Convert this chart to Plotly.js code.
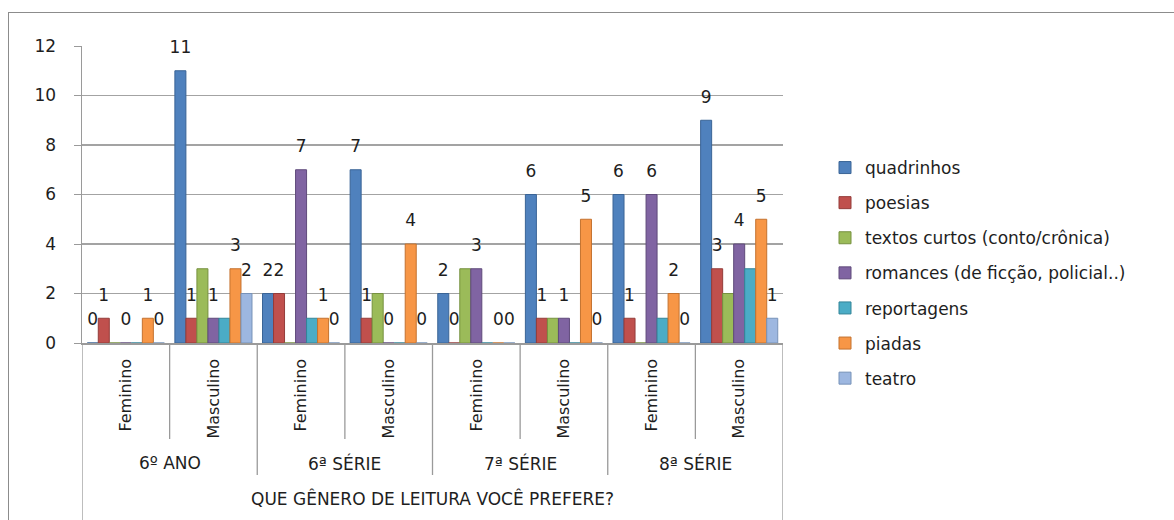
<!DOCTYPE html>
<html>
<head>
<meta charset="utf-8">
<script src="https://cdn.plot.ly/plotly-3.0.1.min.js"></script>
<style>
  html, body { margin: 0; padding: 0; background: #fff; }
  #wrap { position: relative; width: 1174px; height: 520px; overflow: hidden; }
  #chart { position: absolute; left: 0; top: 0; width: 1174px; height: 520px; }
  #frame { position: absolute; left: 8px; top: 12px; width: 1200px; height: 560px;
           border: 1.5px solid #8c8c8c; pointer-events: none; }
</style>
</head>
<body>
<div id="wrap">
  <div id="chart"></div>
  <div id="frame"></div>
</div>
<script>
// Category levels
const grades = ['6º ANO', '6ª SÉRIE', '7ª SÉRIE', '8ª SÉRIE'];
const sexes = ['Feminino', 'Masculino'];
const axisTitle = 'QUE GÊNERO DE LEITURA VOCÊ PREFERE?';

// Series (one value per grade/sex pair, in the order above)
const seriesNames = ['quadrinhos', 'poesias', 'textos curtos (conto/crônica)',
  'romances (de ficção, policial..)', 'reportagens', 'piadas', 'teatro'];
const quadrinhos   = [0, 11, 2, 7, 2, 6, 6, 9];
const poesias      = [1, 1, 2, 1, 0, 1, 1, 3];
const textosCurtos = [0, 3, 0, 2, 3, 1, 0, 2];
const romances     = [0, 1, 7, 0, 3, 1, 6, 4];
const reportagens  = [0, 1, 1, 0, 0, 0, 1, 3];
const piadas       = [1, 3, 1, 4, 0, 5, 2, 5];
const teatro       = [0, 2, 0, 0, 0, 0, 0, 1];
const seriesValues = [quadrinhos, poesias, textosCurtos, romances, reportagens, piadas, teatro];
// which series carry data labels
const showLabels = [true, true, false, true, false, true, true];

const colors = ['#4F81BD', '#C0504D', '#9BBB59', '#8064A2', '#4BACC6', '#F79646', '#9DB7E0'];
const edges  = ['#3A6496', '#943C3A', '#76913F', '#5F4A7B', '#338598', '#C4722F', '#7792B8'];

// positions of the eight grade/sex columns
const xs = [];
const tickText = [];
grades.forEach((g, i) => sexes.forEach((s, j) => { xs.push(i * sexes.length + j); tickText.push(s); }));
const nCat = xs.length;

const FONT = '"DejaVu Sans", "Open Sans", sans-serif';
const TEXT = '#1e1e1e';
const BAR_GAP = 0.12;

const traces = [];
seriesNames.forEach((name, k) => {
  traces.push({
    type: 'bar', name: name, x: xs, y: seriesValues[k],
    legendgroup: name,
    marker: { color: colors[k], line: { color: edges[k], width: 1 } },
    hoverinfo: 'name+y'
  });
});
// value labels, grouped the same way as the bars
seriesNames.forEach((name, k) => {
  traces.push({
    type: 'scatter', mode: 'markers+text', x: xs, y: seriesValues[k],
    text: seriesValues[k].map(v => showLabels[k] ? String(v) : ''),
    textposition: 'top center',
    textfont: { family: FONT, size: 17, color: TEXT },
    marker: { size: 20, opacity: 0 },
    showlegend: false, hoverinfo: 'skip', cliponaxis: false
  });
});

// plot area in pixels
const W = 1174, H = 520;
const L = 82, R = 783, T = 46, B = 343;
const yp = px => (B - px) / (B - T);

const shapes = [];
for (let b = 0; b <= nCat; b++) {
  const xb = b - 0.5;
  let bottom;
  if (b === 0 || b === nCat) bottom = H + 5;
  else if (b % sexes.length === 0) bottom = 475;
  else bottom = 439;
  shapes.push({ type: 'line', xref: 'x', yref: 'paper', x0: xb, x1: xb,
    y0: yp(344), y1: yp(bottom), line: { color: '#9a9a9a', width: 1.3 } });
}

const annotations = grades.map((g, i) => ({
  xref: 'x', yref: 'paper', x: i * sexes.length + (sexes.length - 1) / 2, y: yp(463),
  yanchor: 'middle', xanchor: 'center',
  text: g, showarrow: false, font: { family: FONT, size: 17, color: TEXT }
}));
annotations.push({
  xref: 'x', yref: 'paper', x: (nCat - 1) / 2, y: yp(498),
  yanchor: 'middle', xanchor: 'center',
  text: axisTitle, showarrow: false, font: { family: FONT, size: 17, color: TEXT }
});

const layout = {
  width: W, height: H,
  margin: { l: L, r: W - R, t: T, b: H - B, pad: 0 },
  paper_bgcolor: 'rgba(0,0,0,0)', plot_bgcolor: '#fff',
  barmode: 'group', bargap: BAR_GAP, bargroupgap: 0,
  scattermode: 'group', scattergap: BAR_GAP,
  showlegend: true,
  legend: {
    x: (825 - L) / (R - L), xanchor: 'left', y: yp(150), yanchor: 'top',
    traceorder: 'grouped', tracegroupgap: 10,
    font: { family: FONT, size: 17, color: TEXT },
    bgcolor: 'rgba(0,0,0,0)'
  },
  xaxis: {
    range: [-0.5, nCat - 0.5], tickmode: 'array', tickvals: xs, ticktext: tickText,
    tickangle: -90, ticks: '', ticklabelstandoff: 8,
    tickfont: { family: FONT, size: 16, color: TEXT },
    showline: true, linecolor: '#9a9a9a', linewidth: 1.5, showgrid: false, zeroline: false,
    fixedrange: true
  },
  yaxis: {
    range: [0, 12], dtick: 2, tick0: 0,
    showgrid: true, gridcolor: '#a3a3a3', gridwidth: 1.5,
    showline: true, linecolor: '#9a9a9a', linewidth: 1.5,
    ticks: 'outside', ticklen: 7, tickcolor: '#9a9a9a', ticklabelstandoff: 14,
    tickfont: { family: FONT, size: 17, color: TEXT },
    zeroline: false, fixedrange: true
  },
  shapes: shapes,
  annotations: annotations
};

Plotly.newPlot('chart', traces, layout, { displayModeBar: false, staticPlot: true });
</script>
</body>
</html>
